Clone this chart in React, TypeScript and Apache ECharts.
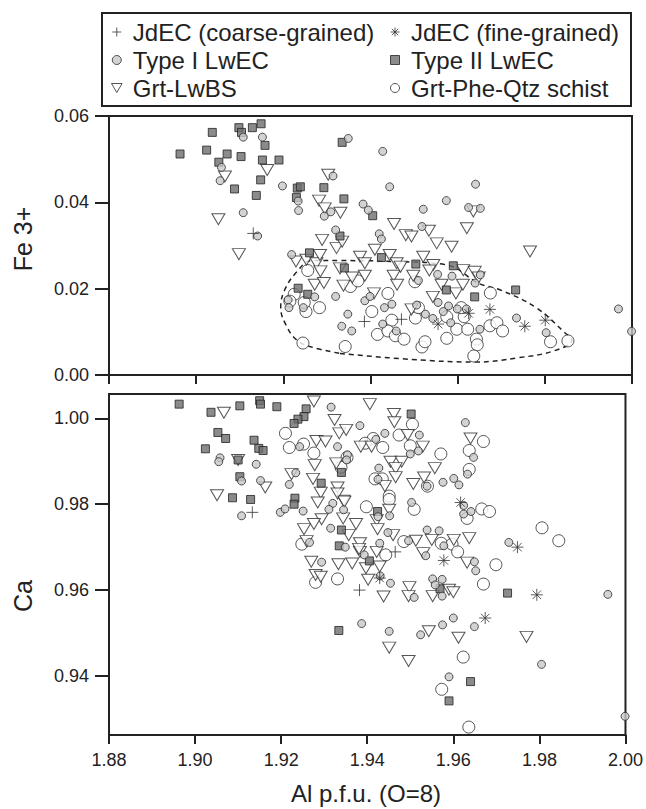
import React, { useEffect, useRef } from 'react';
import * as echarts from 'echarts';

const FONT = '"Liberation Sans", Arial, Helvetica, sans-serif';
const INK = '#222222';

const X_MIN = 1.88;
const X_MAX = 2.0;
const FE_TICKS = [0, 0.02, 0.04, 0.06];
const CA_TICKS = [0.94, 0.96, 0.98, 1.0];

const NAMES = ['JdEC (coarse-grained)', 'JdEC (fine-grained)', 'Type I LwEC', 'Type II LwEC', 'Grt-LwBS', 'Grt-Phe-Qtz schist'];

// ---- Upper panel: Al vs Fe3+ ----
const jdecCoarseFe = [[1.9131, 0.0328], [1.9386, 0.0124], [1.9471, 0.0129]];
const jdecFineFe = [[1.9674, 0.0152], [1.9754, 0.0113], [1.9801, 0.0127], [1.9555, 0.0118], [1.9625, 0.0143]];
const typeIFe = [
  [1.9108, 0.0551], [1.9152, 0.0551], [1.9058, 0.0481], [1.9055, 0.045], [1.9198, 0.0438], [1.9234, 0.0403],
  [1.9235, 0.0381], [1.9108, 0.0376], [1.9141, 0.0322], [1.9314, 0.0461], [1.9294, 0.0368], [1.9309, 0.0378],
  [1.932, 0.0336], [1.9349, 0.0548], [1.9219, 0.0279], [1.9383, 0.0396], [1.9395, 0.0382], [1.9428, 0.0518],
  [1.9444, 0.0436], [1.9641, 0.0442], [1.9574, 0.0404], [1.9521, 0.0384], [1.9625, 0.0388], [1.9652, 0.0386],
  [1.9518, 0.0344], [1.942, 0.0327], [1.9425, 0.0315], [1.9554, 0.0233], [1.9587, 0.0229], [1.9652, 0.0232],
  [1.964, 0.0213], [1.9211, 0.0174], [1.9213, 0.0156], [1.9272, 0.0181], [1.932, 0.0182], [1.9246, 0.0156],
  [1.9387, 0.0172], [1.9399, 0.0182], [1.9348, 0.0141], [1.9334, 0.0113], [1.9357, 0.0102], [1.9432, 0.0156],
  [1.9449, 0.0164], [1.9428, 0.0118], [1.9459, 0.0102], [1.9506, 0.0162], [1.9526, 0.0141], [1.9543, 0.0131],
  [1.9555, 0.0168], [1.9567, 0.0147], [1.9579, 0.016], [1.9599, 0.0153], [1.962, 0.0153], [1.9584, 0.0121],
  [1.9651, 0.0106], [1.9735, 0.0132], [1.9803, 0.0098], [1.9969, 0.0153], [1.9999, 0.0101], [1.951, 0.0219]
];
const typeIIFe = [
  [1.8963, 0.0512], [1.9037, 0.0562], [1.9024, 0.0521], [1.9071, 0.0512], [1.9098, 0.0573], [1.9104, 0.0562],
  [1.9129, 0.0573], [1.9149, 0.0582], [1.9158, 0.0532], [1.9103, 0.0506], [1.9052, 0.0493], [1.9152, 0.0498],
  [1.919, 0.0498], [1.9148, 0.0452], [1.9088, 0.0431], [1.9138, 0.0416], [1.9232, 0.0433], [1.9239, 0.0436],
  [1.923, 0.0411], [1.9293, 0.0434], [1.9339, 0.0408], [1.9335, 0.0539], [1.933, 0.0322], [1.926, 0.0283],
  [1.934, 0.0248], [1.9405, 0.0369], [1.959, 0.0253], [1.9425, 0.0272], [1.9504, 0.0257], [1.9234, 0.0201],
  [1.9256, 0.0187], [1.9574, 0.0197], [1.9639, 0.0181], [1.9733, 0.0197]
];
const grtLwbsFe = [
  [1.9163, 0.0475], [1.9066, 0.046], [1.9051, 0.0361], [1.9098, 0.028], [1.9303, 0.0464], [1.9282, 0.0404],
  [1.9295, 0.0386], [1.9331, 0.0376], [1.9289, 0.0313], [1.9322, 0.0294], [1.9335, 0.0309], [1.9229, 0.0263],
  [1.9253, 0.0267], [1.9276, 0.0259], [1.9284, 0.0278], [1.9376, 0.0274], [1.9387, 0.0259], [1.9454, 0.035],
  [1.9481, 0.0324], [1.9494, 0.0321], [1.9534, 0.0334], [1.9552, 0.0305], [1.9586, 0.0297], [1.9621, 0.034],
  [1.9636, 0.0379], [1.9766, 0.0286], [1.941, 0.029], [1.9444, 0.0278], [1.946, 0.0259], [1.9521, 0.0274],
  [1.9544, 0.0255], [1.9613, 0.0243], [1.9639, 0.0239], [1.9285, 0.024], [1.9272, 0.0209], [1.9293, 0.0213],
  [1.933, 0.0247], [1.9338, 0.0207], [1.9358, 0.0226], [1.9387, 0.023], [1.9408, 0.0189], [1.9453, 0.023],
  [1.9461, 0.0209], [1.9469, 0.0251], [1.9498, 0.023], [1.9535, 0.0242], [1.9563, 0.0209], [1.9596, 0.0189],
  [1.9612, 0.0209], [1.9648, 0.0226], [1.9543, 0.0181], [1.9494, 0.0152]
];
const schistFe = [
  [1.9256, 0.0242], [1.9225, 0.0187], [1.9215, 0.0171], [1.9252, 0.0147], [1.9283, 0.0156], [1.9245, 0.0074],
  [1.9342, 0.0066], [1.9354, 0.0205], [1.9403, 0.0147], [1.944, 0.0189], [1.9449, 0.0127], [1.9416, 0.0094],
  [1.944, 0.0102], [1.9457, 0.0091], [1.9477, 0.0083], [1.9503, 0.0132], [1.9518, 0.0065], [1.9525, 0.0077],
  [1.9575, 0.0085], [1.9598, 0.0106], [1.9615, 0.0135], [1.9623, 0.0106], [1.9643, 0.0083], [1.9645, 0.007],
  [1.9637, 0.0044], [1.9675, 0.019], [1.9674, 0.0114], [1.969, 0.0121], [1.9703, 0.0102], [1.9813, 0.0077],
  [1.9853, 0.0079], [1.9608, 0.0156], [1.9575, 0.0135], [1.951, 0.0156], [1.9248, 0.0168], [1.9502, 0.0216],
  [1.9371, 0.0218]
];
// dashed field outline (upper panel)
const schistField = [
  [1.933, 0.005], [1.9494, 0.0036], [1.9641, 0.003], [1.9739, 0.004], [1.9821, 0.0056], [1.9862, 0.0081],
  [1.9846, 0.0098], [1.978, 0.0156], [1.9698, 0.0197], [1.9649, 0.0212], [1.9575, 0.0255], [1.9453, 0.0263],
  [1.933, 0.0265], [1.9264, 0.0265], [1.9231, 0.0239], [1.9203, 0.0197], [1.9194, 0.0156], [1.9207, 0.0114],
  [1.9231, 0.0081], [1.9264, 0.0065], [1.933, 0.005]
];

// ---- Lower panel: Al vs Ca ----
const jdecCoarseCa = [[1.9133, 0.9781], [1.9382, 0.96], [1.9465, 0.9689]];
const jdecFineCa = [[1.9617, 0.9804], [1.9578, 0.9669], [1.9749, 0.97], [1.9794, 0.9589], [1.9429, 0.9628], [1.9674, 0.9535]];
const typeICa = [
  [1.9316, 1.0026], [1.9383, 0.9983], [1.9058, 0.9908], [1.9055, 0.9899], [1.9142, 0.9893], [1.9108, 0.9854],
  [1.9152, 0.9855], [1.9234, 0.9873], [1.9219, 0.9846], [1.9243, 0.9934], [1.9331, 0.9934], [1.9354, 0.9915],
  [1.9352, 0.9903], [1.932, 0.9802], [1.9311, 0.9788], [1.9345, 0.9787], [1.9198, 0.9781], [1.9209, 0.9789],
  [1.9251, 0.9784], [1.9108, 0.9773], [1.9315, 0.9744], [1.9266, 0.9711], [1.9349, 0.97], [1.9294, 0.9665],
  [1.9393, 0.9682], [1.9441, 0.9965], [1.942, 0.9951], [1.9521, 0.9961], [1.95, 0.9917], [1.9519, 0.9924],
  [1.9628, 0.999], [1.9647, 0.9909], [1.9427, 0.9884], [1.9425, 0.9858], [1.9576, 0.9851], [1.9601, 0.986],
  [1.9613, 0.9845], [1.9633, 0.987], [1.9539, 0.9842], [1.9503, 0.9804], [1.9452, 0.9773], [1.9425, 0.9771],
  [1.9624, 0.9797], [1.9624, 0.9777], [1.9641, 0.9783], [1.9448, 0.9734], [1.9539, 0.974], [1.9567, 0.9738],
  [1.9496, 0.9715], [1.9578, 0.9703], [1.9536, 0.968], [1.9429, 0.9709], [1.9729, 0.9711], [1.9649, 0.9666],
  [1.9652, 0.9645], [1.9552, 0.9626], [1.9574, 0.9625], [1.9454, 0.9616], [1.9509, 0.9583], [1.9574, 0.9586],
  [1.9959, 0.959], [1.9558, 0.9612], [1.943, 0.9633], [1.96, 0.9535], [1.9575, 0.9519], [1.9524, 0.9496],
  [1.9649, 0.9515], [1.9451, 0.9504], [1.9387, 0.9522], [1.9805, 0.9427], [1.959, 0.9398], [1.9999, 0.9306]
];
const typeIICa = [
  [1.8963, 1.0033], [1.9037, 1.0014], [1.9104, 1.0029], [1.915, 1.0041], [1.9152, 1.0033], [1.919, 1.0027],
  [1.9258, 1.0022], [1.9253, 1.0004], [1.9239, 0.9998], [1.923, 0.9988], [1.9053, 0.9967], [1.9071, 0.9953],
  [1.9024, 0.9929], [1.9137, 0.9949], [1.9148, 0.993], [1.9158, 0.9925], [1.91, 0.9903], [1.9104, 0.9864],
  [1.9087, 0.9815], [1.9129, 0.9811], [1.9232, 0.9814], [1.923, 0.98], [1.9293, 0.9849], [1.934, 0.9874],
  [1.934, 0.974], [1.9335, 0.9703], [1.9502, 1.001], [1.9424, 0.9783], [1.9405, 0.9668], [1.9569, 0.9603],
  [1.9726, 0.9593], [1.9334, 0.9506], [1.964, 0.9387], [1.959, 0.9342]
];
const grtLwbsCa = [
  [1.9067, 1.0013], [1.9276, 1.0039], [1.9324, 0.9996], [1.9335, 0.9965], [1.9351, 0.9973], [1.9282, 0.9947],
  [1.9303, 0.9946], [1.9385, 0.9934], [1.91, 0.9903], [1.9278, 0.9891], [1.9328, 0.9895], [1.9224, 0.987],
  [1.9274, 0.9859], [1.9163, 0.9839], [1.9292, 0.9827], [1.9331, 0.9839], [1.9345, 0.9808], [1.9285, 0.9804],
  [1.9051, 0.9821], [1.9294, 0.9765], [1.9344, 0.9767], [1.9374, 0.9754], [1.9253, 0.9742], [1.9276, 0.9754],
  [1.9357, 0.9728], [1.9259, 0.9714], [1.9383, 0.9709], [1.9383, 0.9689], [1.927, 0.9666], [1.9333, 0.966],
  [1.9365, 0.9662], [1.928, 0.9635], [1.9292, 0.9631], [1.9406, 1.0033], [1.9462, 1.001], [1.9463, 0.9991],
  [1.941, 0.9934], [1.9494, 0.9961], [1.9529, 0.9934], [1.964, 0.9953], [1.9454, 0.9899], [1.948, 0.9899],
  [1.9466, 0.9884], [1.9466, 0.9863], [1.9557, 0.9884], [1.9507, 0.9847], [1.9532, 0.9862], [1.9331, 0.9825],
  [1.9347, 0.9806], [1.9441, 0.9842], [1.9451, 0.9787], [1.9422, 0.9763], [1.9424, 0.9742], [1.946, 0.9728],
  [1.9513, 0.9715], [1.955, 0.9717], [1.9601, 0.9717], [1.9637, 0.9721], [1.9381, 0.9696], [1.9422, 0.9689],
  [1.953, 0.9686], [1.9397, 0.9651], [1.9429, 0.9655], [1.9632, 0.9664], [1.9402, 0.9624], [1.9498, 0.9607],
  [1.959, 0.9601], [1.9438, 0.9585], [1.9496, 0.9586], [1.9552, 0.9586], [1.96, 0.9595], [1.9543, 0.9504],
  [1.9612, 0.9489], [1.977, 0.9491], [1.9451, 0.9466], [1.9496, 0.9435]
];
const schistCa = [
  [1.921, 0.9965], [1.9219, 0.9932], [1.9252, 0.994], [1.9276, 0.9919], [1.9339, 0.9886], [1.9353, 0.9909],
  [1.9398, 0.9794], [1.9248, 0.9707], [1.928, 0.9618], [1.9331, 0.9626], [1.9505, 0.9986], [1.9474, 0.9961],
  [1.9436, 0.9932], [1.95, 0.9936], [1.9414, 0.9953], [1.9395, 0.9942], [1.967, 0.9946], [1.9637, 0.9925],
  [1.9571, 0.9917], [1.9637, 0.9881], [1.9418, 0.9859], [1.9435, 0.9859], [1.9451, 0.9819], [1.9451, 0.9811],
  [1.954, 0.9842], [1.9509, 0.9788], [1.9632, 0.9767], [1.9666, 0.9789], [1.9684, 0.9783], [1.9806, 0.9745],
  [1.9845, 0.9715], [1.9485, 0.9713], [1.9572, 0.9709], [1.9597, 0.9707], [1.961, 0.9689], [1.9443, 0.9682],
  [1.9699, 0.9659], [1.967, 0.9614], [1.9623, 0.9444], [1.9573, 0.9369], [1.9636, 0.9281]
];

const PLUS = 'path://M5,0L5,10M0,5L10,5';
const STAR = 'path://M5,0L5,10M0,5L10,5M1.46,1.46L8.54,8.54M1.46,8.54L8.54,1.46';
const TRI = 'path://M0,0L10,0L5,8.5Z';
const SQUARE = 'path://M0,0L10,0L10,10L0,10Z';

const STYLES: Record<string, any> = {
  'JdEC (coarse-grained)': { symbol: PLUS, size: 12, itemStyle: { color: '#333333', borderColor: '#333333', borderWidth: 1 }, z: 7 },
  'JdEC (fine-grained)': { symbol: STAR, size: 12, itemStyle: { color: '#333333', borderColor: '#333333', borderWidth: 1 }, z: 8 },
  'Type I LwEC': { symbol: 'circle', size: 8, itemStyle: { color: '#c8c8c8', borderColor: '#2a2a2a', borderWidth: 1 }, z: 6 },
  'Type II LwEC': { symbol: SQUARE, size: 8, itemStyle: { color: '#6e6e6e', borderColor: '#222222', borderWidth: 1 }, z: 5 },
  'Grt-LwBS': { symbol: TRI, size: [13, 11], itemStyle: { color: '#ffffff', borderColor: '#2a2a2a', borderWidth: 1 }, z: 4 },
  'Grt-Phe-Qtz schist': { symbol: 'circle', size: 12, itemStyle: { color: '#ffffff', borderColor: '#2a2a2a', borderWidth: 1 }, z: 3 }
};

function scatter(name: string, data: number[][], idx: number) {
  const s = STYLES[name];
  return {
    type: 'scatter',
    name,
    xAxisIndex: idx,
    yAxisIndex: idx,
    data,
    symbol: s.symbol,
    symbolSize: s.size,
    itemStyle: s.itemStyle,
    z: s.z,
    silent: true,
    emphasis: { disabled: true }
  };
}

const axisLineStyle = { color: INK, width: 2 };
const labelStyle = { fontFamily: FONT, fontSize: 18, color: INK };

function buildOption() {
  const legendCommon = {
    orient: 'vertical',
    top: 20,
    padding: 0,
    itemWidth: 22,
    itemHeight: 9,
    itemGap: 4,
    selectedMode: false,
    itemStyle: { borderWidth: 1 },
    textStyle: { fontFamily: FONT, fontSize: 24, color: INK, lineHeight: 24 }
  };
  return {
    animation: false,
    backgroundColor: '#ffffff',
    legend: [
      { ...legendCommon, left: 111, data: [NAMES[0], NAMES[2], NAMES[4]] },
      { ...legendCommon, left: 390, data: [NAMES[1], NAMES[3], NAMES[5]] }
    ],
    grid: [
      { left: 109, right: 14, top: 116, height: 259, show: true, borderColor: INK, borderWidth: 2 },
      { left: 109, right: 14, top: 394, height: 341, show: true, borderColor: INK, borderWidth: 2 }
    ],
    xAxis: [0, 1].map((i) => ({
      type: 'value',
      gridIndex: i,
      min: X_MIN,
      max: X_MAX,
      interval: 0.02,
      axisLine: { show: true, lineStyle: axisLineStyle },
      axisTick: { show: true, inside: false, length: 9, lineStyle: axisLineStyle },
      axisLabel: { show: i === 1, ...labelStyle, margin: 16, formatter: (v: number) => v.toFixed(2) },
      splitLine: { show: false }
    })),
    yAxis: [
      {
        type: 'value',
        gridIndex: 0,
        min: 0,
        max: 0.06,
        interval: 0.02,
        axisLine: { show: true, lineStyle: axisLineStyle },
        axisTick: { show: true, inside: false, length: 14, lineStyle: axisLineStyle, customValues: FE_TICKS },
        axisLabel: { ...labelStyle, margin: 20, customValues: FE_TICKS, formatter: (v: number) => v.toFixed(2) },
        splitLine: { show: false }
      },
      {
        type: 'value',
        gridIndex: 1,
        min: 0.92626,
        max: 1.00566,
        axisLine: { show: true, lineStyle: axisLineStyle },
        axisTick: { show: true, inside: false, length: 14, lineStyle: axisLineStyle, customValues: CA_TICKS },
        axisLabel: { ...labelStyle, margin: 20, customValues: CA_TICKS, formatter: (v: number) => v.toFixed(2) },
        splitLine: { show: false }
      }
    ],
    graphic: [
      { type: 'rect', shape: { x: 102, y: 13, width: 529, height: 93 }, style: { fill: 'none', stroke: INK, lineWidth: 2 }, z: 10 },
      { type: 'text', x: 23, y: 239, rotation: Math.PI / 2, style: { text: 'Fe 3+', font: `25px ${FONT}`, fill: INK, align: 'center', verticalAlign: 'middle' } },
      { type: 'text', x: 23, y: 596, rotation: Math.PI / 2, style: { text: 'Ca', font: `25px ${FONT}`, fill: INK, align: 'center', verticalAlign: 'middle' } },
      { type: 'text', x: 366, y: 793, style: { text: 'Al p.f.u. (O=8)', font: `24px ${FONT}`, fill: INK, align: 'center', verticalAlign: 'middle' } }
    ],
    series: [
      {
        type: 'line',
        name: 'field',
        xAxisIndex: 0,
        yAxisIndex: 0,
        data: schistField,
        smooth: 0.4,
        symbol: 'none',
        silent: true,
        lineStyle: { color: INK, width: 1.5, type: [5, 4] },
        z: 2
      },
      scatter(NAMES[5], schistFe, 0),
      scatter(NAMES[4], grtLwbsFe, 0),
      scatter(NAMES[3], typeIIFe, 0),
      scatter(NAMES[2], typeIFe, 0),
      scatter(NAMES[0], jdecCoarseFe, 0),
      scatter(NAMES[1], jdecFineFe, 0),
      scatter(NAMES[5], schistCa, 1),
      scatter(NAMES[4], grtLwbsCa, 1),
      scatter(NAMES[3], typeIICa, 1),
      scatter(NAMES[2], typeICa, 1),
      scatter(NAMES[0], jdecCoarseCa, 1),
      scatter(NAMES[1], jdecFineCa, 1)
    ]
  };
}

export default function App() {
  const ref = useRef<HTMLDivElement>(null);
  useEffect(() => {
    if (!ref.current) return;
    const chart = echarts.init(ref.current, null, { renderer: 'svg' });
    chart.setOption(buildOption() as any);
    return () => chart.dispose();
  }, []);
  return <div ref={ref} style={{ position: 'absolute', left: 0, top: 0, width: 646, height: 809 }} />;
}
